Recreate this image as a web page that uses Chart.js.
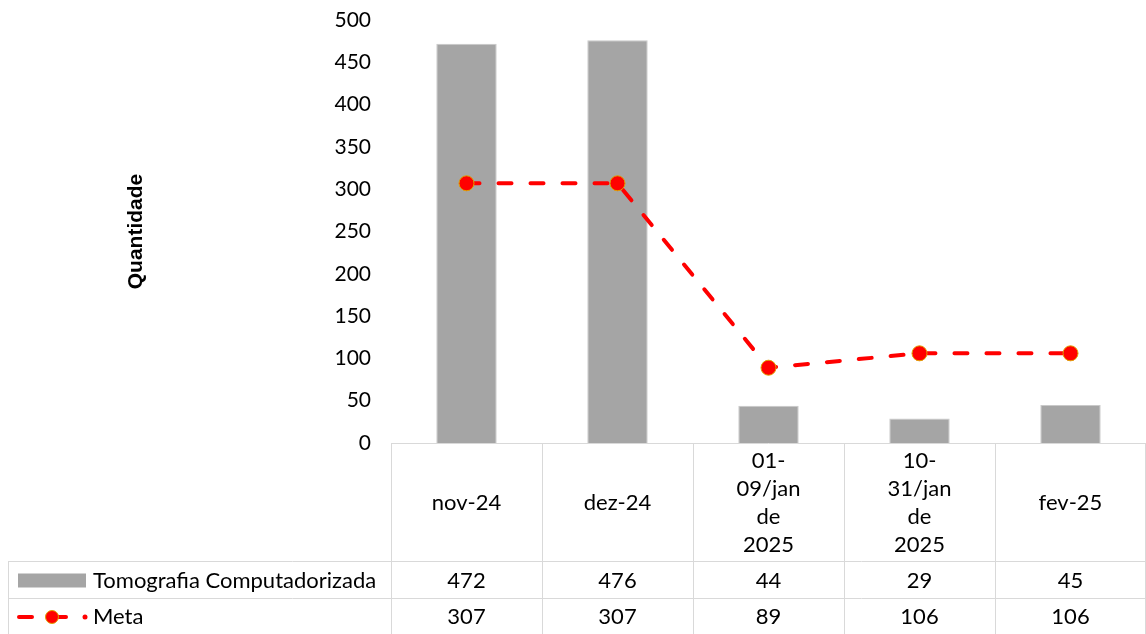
<!DOCTYPE html>
<html>
<head>
<meta charset="utf-8">
<script src="https://cdn.jsdelivr.net/npm/chart.js@4.4.1/dist/chart.umd.min.js"></script>
<style>
  html, body { margin: 0; padding: 0; background: #fff; }
  #wrap { width: 1146px; height: 634px; }
</style>
</head>
<body>
<div id="wrap"><canvas id="chart" width="1146" height="634"></canvas></div>
<script>
// Data
const categories = [
  ["nov-24"],
  ["dez-24"],
  ["01-", "09/jan", "de", "2025"],
  ["10-", "31/jan", "de", "2025"],
  ["fev-25"]
];
const tomografia = [472, 476, 44, 29, 45];
const meta = [307, 307, 89, 106, 106];
const yMin = 0;
const yMax = 500;
const yStep = 50;

const FONT = "Lato, 'Open Sans', sans-serif";
const GRID = "#d9d9d9";
const BAR_COLOR = "#a5a5a5";
const LINE_COLOR = "#ff0000";

// Excel-style data table under the plot
const dataTable = {
  id: "dataTable",
  afterDraw(chart) {
    const ctx = chart.ctx;
    const area = chart.chartArea;
    const x = chart.scales.x;
    const n = chart.data.labels.length;
    const colW = (area.right - area.left) / n;
    const headTop = area.bottom;
    const headBottom = 561;
    const row1Bottom = 598;
    const tableLeft = 8;
    const bottom = 640;

    ctx.save();
    ctx.strokeStyle = GRID;
    ctx.lineWidth = 1;
    ctx.beginPath();
    ctx.moveTo(area.left, headTop + 0.5); ctx.lineTo(area.right, headTop + 0.5);
    ctx.moveTo(tableLeft, headBottom + 0.5); ctx.lineTo(area.right, headBottom + 0.5);
    ctx.moveTo(tableLeft, row1Bottom + 0.5); ctx.lineTo(area.right, row1Bottom + 0.5);
    ctx.moveTo(tableLeft + 0.5, headBottom); ctx.lineTo(tableLeft + 0.5, bottom);
    for (let i = 0; i <= n; i++) {
      let px = Math.round(area.left + i * colW) + 0.5;
      if (i === n) px = area.right - 0.5;
      ctx.moveTo(px, headTop); ctx.lineTo(px, bottom);
    }
    ctx.stroke();

    ctx.fillStyle = "#000";
    ctx.font = "22px " + FONT;
    ctx.textAlign = "center";
    ctx.textBaseline = "middle";

    // category header row
    const lineH = 28;
    chart.data.labels.forEach((lab, i) => {
      const cx = x.getPixelForValue(i);
      const cy = (headTop + headBottom) / 2 + 1;
      const y0 = cy - (lab.length - 1) * lineH / 2;
      lab.forEach((t, j) => ctx.fillText(t, cx, y0 + j * lineH));
    });

    // values rows
    const rowsY = [(headBottom + row1Bottom) / 2 + 1, (row1Bottom + 636) / 2];
    chart.data.datasets.forEach((ds, k) => {
      ds.data.forEach((v, i) => ctx.fillText(String(v), x.getPixelForValue(i), rowsY[k]));
    });

    // legend keys
    const bars = chart.data.datasets[0];
    const line = chart.data.datasets[1];
    ctx.fillStyle = bars.backgroundColor;
    ctx.fillRect(18, rowsY[0] - 7, 68, 14);

    const ly = rowsY[1];
    ctx.strokeStyle = line.borderColor;
    ctx.lineWidth = 4;
    ctx.lineCap = "round";
    ctx.beginPath();
    ctx.moveTo(19, ly); ctx.lineTo(32, ly);
    ctx.moveTo(58, ly); ctx.lineTo(66, ly);
    ctx.stroke();
    ctx.fillStyle = line.pointBackgroundColor;
    ctx.beginPath(); ctx.arc(85, ly, 2.5, 0, Math.PI * 2); ctx.fill();
    ctx.beginPath(); ctx.arc(52, ly, 6.5, 0, Math.PI * 2); ctx.fill();
    ctx.strokeStyle = line.pointBorderColor;
    ctx.lineWidth = 1;
    ctx.stroke();

    ctx.fillStyle = "#000";
    ctx.textAlign = "left";
    ctx.fillText(bars.label, 93, rowsY[0]);
    ctx.fillText(line.label, 93, rowsY[1]);
    ctx.restore();
  }
};

new Chart(document.getElementById("chart"), {
  data: {
    labels: categories,
    datasets: [
      {
        type: "bar",
        label: "Tomografia Computadorizada",
        data: tomografia,
        backgroundColor: BAR_COLOR,
        borderColor: "#c9c9c9",
        borderWidth: 1,
        categoryPercentage: 1,
        barPercentage: 0.4,
        order: 2
      },
      {
        type: "line",
        label: "Meta",
        data: meta,
        borderColor: LINE_COLOR,
        borderWidth: 4,
        borderDash: [13, 19],
        borderCapStyle: "round",
        tension: 0,
        pointRadius: 7.5,
        pointBackgroundColor: LINE_COLOR,
        pointBorderColor: "#e0a000",
        pointBorderWidth: 1,
        order: 1
      }
    ]
  },
  options: {
    responsive: false,
    animation: false,
    devicePixelRatio: 1,
    layout: { autoPadding: false, padding: { top: 20, bottom: 191, left: 0, right: 0 } },
    plugins: {
      legend: { display: false },
      tooltip: { enabled: false }
    },
    scales: {
      x: { display: false, offset: true },
      y: {
        min: yMin,
        max: yMax,
        ticks: {
          stepSize: yStep,
          padding: 20,
          color: "#000",
          font: { family: FONT, size: 21 }
        },
        grid: { display: false, drawTicks: false },
        border: { display: false },
        title: {
          display: true,
          text: "Quantidade",
          color: "#000",
          font: { family: "'Liberation Sans', Arial, sans-serif", size: 21, weight: "bold" },
          padding: { top: 124, bottom: 0 }
        },
        afterFit(scale) {
          scale.width = 391;
          scale.paddingTop = 0;
          scale.paddingBottom = 0;
        }
      }
    }
  },
  plugins: [dataTable]
});
</script>
</body>
</html>
